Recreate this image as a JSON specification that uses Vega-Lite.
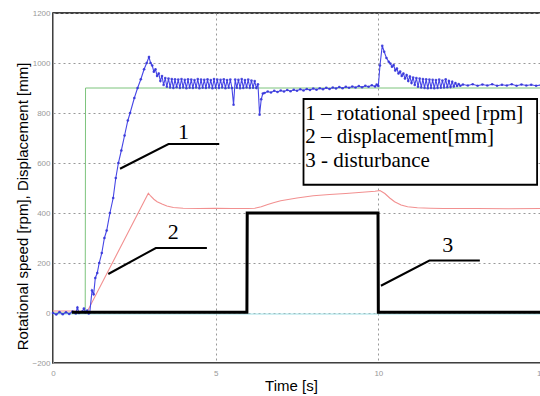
{
  "$schema": "https://vega.github.io/schema/vega-lite/v6.json",
  "width": 488,
  "height": 350,
  "autosize": {"type": "none"},
  "padding": {"left": 53, "top": 13, "right": 0, "bottom": 33},
  "background": "white",
  "config": {"view": {"stroke": "#000", "strokeWidth": 1.5}},
  "datasets": {
    "ref": [
      {"t": 0, "v": 0}, {"t": 0.99, "v": 0}, {"t": 1.0, "v": 900}, {"t": 15, "v": 900}
    ],
    "base": [
      {"t": 0, "v": -4}, {"t": 15, "v": -4}
    ],
    "disp": [
      {"t": 0, "v": 8}, {"t": 0.5, "v": 8}, {"t": 1.0, "v": 6}, {"t": 1.05, "v": 5},
      {"t": 2.93, "v": 479}, {"t": 3.0, "v": 468}, {"t": 3.1, "v": 455}, {"t": 3.2, "v": 445},
      {"t": 3.35, "v": 436}, {"t": 3.5, "v": 428}, {"t": 3.7, "v": 422}, {"t": 4.0, "v": 419},
      {"t": 4.5, "v": 418}, {"t": 5.0, "v": 419}, {"t": 5.5, "v": 418}, {"t": 6.0, "v": 418},
      {"t": 6.2, "v": 419}, {"t": 6.4, "v": 425}, {"t": 6.6, "v": 434}, {"t": 6.8, "v": 442},
      {"t": 7.0, "v": 449}, {"t": 7.5, "v": 460}, {"t": 8.0, "v": 469}, {"t": 8.5, "v": 474},
      {"t": 9.0, "v": 478}, {"t": 9.5, "v": 483}, {"t": 9.9, "v": 487}, {"t": 10.05, "v": 490},
      {"t": 10.2, "v": 478}, {"t": 10.35, "v": 460}, {"t": 10.5, "v": 445}, {"t": 10.7, "v": 432},
      {"t": 10.9, "v": 425}, {"t": 11.2, "v": 421}, {"t": 11.6, "v": 419}, {"t": 12, "v": 418},
      {"t": 13, "v": 418}, {"t": 14, "v": 417}, {"t": 15, "v": 418}
    ],
    "speed": [
      {"t": 0, "v": 0}, {"t": 0.1, "v": -6}, {"t": 0.2, "v": 4}, {"t": 0.3, "v": -5}, {"t": 0.4, "v": 3},
      {"t": 0.5, "v": -4}, {"t": 0.6, "v": 6}, {"t": 0.7, "v": -2}, {"t": 0.75, "v": 22}, {"t": 0.8, "v": 0},
      {"t": 0.9, "v": 6}, {"t": 0.95, "v": 18}, {"t": 1.0, "v": 2}, {"t": 1.05, "v": 10}, {"t": 1.1, "v": -2},
      {"t": 1.13, "v": 2}, {"t": 1.2, "v": 90}, {"t": 1.25, "v": 75}, {"t": 1.3, "v": 140}, {"t": 1.36, "v": 160},
      {"t": 1.42, "v": 200}, {"t": 1.5, "v": 240}, {"t": 1.58, "v": 300}, {"t": 1.65, "v": 330}, {"t": 1.75, "v": 400},
      {"t": 1.85, "v": 460}, {"t": 1.93, "v": 540}, {"t": 2.01, "v": 600}, {"t": 2.1, "v": 650}, {"t": 2.2, "v": 710},
      {"t": 2.3, "v": 770}, {"t": 2.37, "v": 800}, {"t": 2.5, "v": 860}, {"t": 2.6, "v": 900}, {"t": 2.7, "v": 935},
      {"t": 2.8, "v": 975}, {"t": 2.88, "v": 1000}, {"t": 2.95, "v": 1024}, {"t": 3.0, "v": 1000}, {"t": 3.05, "v": 990},
      {"t": 3.1, "v": 965}, {"t": 3.15, "v": 975}, {"t": 3.2, "v": 948}, {"t": 3.25, "v": 958}, {"t": 3.3, "v": 928},
      {"t": 3.35, "v": 948}, {"t": 3.4, "v": 912}, {"t": 3.45, "v": 940}, {"t": 3.5, "v": 905}, {"t": 3.55, "v": 938},
      {"t": 3.6, "v": 902}, {"t": 3.65, "v": 936}, {"t": 3.7, "v": 900}, {"t": 3.75, "v": 935}, {"t": 3.8, "v": 903},
      {"t": 3.85, "v": 934}, {"t": 3.9, "v": 900}, {"t": 3.95, "v": 936}, {"t": 4.0, "v": 902}, {"t": 4.05, "v": 933},
      {"t": 4.1, "v": 899}, {"t": 4.15, "v": 935}, {"t": 4.2, "v": 901}, {"t": 4.25, "v": 934}, {"t": 4.3, "v": 900},
      {"t": 4.35, "v": 932}, {"t": 4.4, "v": 902}, {"t": 4.45, "v": 936}, {"t": 4.5, "v": 899}, {"t": 4.55, "v": 934},
      {"t": 4.6, "v": 901}, {"t": 4.65, "v": 933}, {"t": 4.7, "v": 900}, {"t": 4.75, "v": 935}, {"t": 4.8, "v": 902},
      {"t": 4.85, "v": 932}, {"t": 4.9, "v": 899}, {"t": 4.95, "v": 936}, {"t": 5.0, "v": 901}, {"t": 5.05, "v": 934},
      {"t": 5.1, "v": 900}, {"t": 5.15, "v": 933}, {"t": 5.2, "v": 902}, {"t": 5.25, "v": 935}, {"t": 5.3, "v": 899},
      {"t": 5.35, "v": 932}, {"t": 5.4, "v": 901}, {"t": 5.45, "v": 934}, {"t": 5.5, "v": 900}, {"t": 5.55, "v": 833},
      {"t": 5.6, "v": 934}, {"t": 5.65, "v": 901}, {"t": 5.7, "v": 933}, {"t": 5.75, "v": 899}, {"t": 5.8, "v": 936},
      {"t": 5.85, "v": 900}, {"t": 5.9, "v": 932}, {"t": 5.95, "v": 902}, {"t": 6.0, "v": 934}, {"t": 6.05, "v": 900},
      {"t": 6.1, "v": 930}, {"t": 6.15, "v": 901}, {"t": 6.2, "v": 928}, {"t": 6.25, "v": 900}, {"t": 6.3, "v": 915},
      {"t": 6.35, "v": 793}, {"t": 6.4, "v": 855}, {"t": 6.45, "v": 878}, {"t": 6.5, "v": 880}, {"t": 6.6, "v": 886},
      {"t": 6.7, "v": 882}, {"t": 6.8, "v": 889}, {"t": 6.9, "v": 884}, {"t": 7.0, "v": 890}, {"t": 7.1, "v": 886},
      {"t": 7.2, "v": 892}, {"t": 7.3, "v": 887}, {"t": 7.4, "v": 893}, {"t": 7.5, "v": 889}, {"t": 7.6, "v": 895},
      {"t": 7.7, "v": 890}, {"t": 7.8, "v": 896}, {"t": 7.9, "v": 892}, {"t": 8.0, "v": 898}, {"t": 8.1, "v": 893},
      {"t": 8.2, "v": 899}, {"t": 8.3, "v": 895}, {"t": 8.4, "v": 901}, {"t": 8.5, "v": 896}, {"t": 8.6, "v": 902},
      {"t": 8.7, "v": 898}, {"t": 8.8, "v": 904}, {"t": 8.9, "v": 899}, {"t": 9.0, "v": 905}, {"t": 9.1, "v": 901},
      {"t": 9.2, "v": 906}, {"t": 9.3, "v": 902}, {"t": 9.4, "v": 908}, {"t": 9.5, "v": 903}, {"t": 9.6, "v": 909},
      {"t": 9.7, "v": 905}, {"t": 9.8, "v": 911}, {"t": 9.9, "v": 906}, {"t": 9.95, "v": 914}, {"t": 10.0, "v": 908},
      {"t": 10.05, "v": 990}, {"t": 10.12, "v": 1069}, {"t": 10.18, "v": 1045}, {"t": 10.25, "v": 1020}, {"t": 10.32, "v": 1005},
      {"t": 10.37, "v": 998}, {"t": 10.42, "v": 985}, {"t": 10.47, "v": 992}, {"t": 10.52, "v": 970}, {"t": 10.57, "v": 978},
      {"t": 10.62, "v": 958}, {"t": 10.67, "v": 966}, {"t": 10.72, "v": 948}, {"t": 10.77, "v": 958}, {"t": 10.82, "v": 938},
      {"t": 10.87, "v": 952}, {"t": 10.92, "v": 928}, {"t": 10.97, "v": 946}, {"t": 11.02, "v": 920}, {"t": 11.07, "v": 942},
      {"t": 11.12, "v": 912}, {"t": 11.17, "v": 940}, {"t": 11.22, "v": 905}, {"t": 11.27, "v": 938}, {"t": 11.32, "v": 902},
      {"t": 11.37, "v": 936}, {"t": 11.42, "v": 900}, {"t": 11.47, "v": 935}, {"t": 11.52, "v": 899}, {"t": 11.57, "v": 934},
      {"t": 11.62, "v": 900}, {"t": 11.67, "v": 933}, {"t": 11.72, "v": 899}, {"t": 11.77, "v": 932}, {"t": 11.82, "v": 900},
      {"t": 11.87, "v": 934}, {"t": 11.92, "v": 901}, {"t": 11.97, "v": 930}, {"t": 12.02, "v": 902}, {"t": 12.07, "v": 935},
      {"t": 12.12, "v": 903}, {"t": 12.17, "v": 928}, {"t": 12.22, "v": 904}, {"t": 12.27, "v": 925}, {"t": 12.32, "v": 906},
      {"t": 12.37, "v": 920}, {"t": 12.42, "v": 908}, {"t": 12.47, "v": 916}, {"t": 12.52, "v": 909}, {"t": 12.6, "v": 914},
      {"t": 12.75, "v": 910}, {"t": 12.9, "v": 915}, {"t": 13.05, "v": 909}, {"t": 13.2, "v": 914}, {"t": 13.35, "v": 910},
      {"t": 13.5, "v": 915}, {"t": 13.65, "v": 909}, {"t": 13.8, "v": 913}, {"t": 13.95, "v": 910}, {"t": 14.1, "v": 915},
      {"t": 14.25, "v": 909}, {"t": 14.4, "v": 914}, {"t": 14.55, "v": 910}, {"t": 14.7, "v": 913}, {"t": 14.85, "v": 909},
      {"t": 15, "v": 912}
    ],
    "dist": [
      {"t": 0.58, "v": 3}, {"t": 5.96, "v": 3}, {"t": 5.97, "v": 400}, {"t": 9.99, "v": 400}, {"t": 10.0, "v": 3}, {"t": 15, "v": 3}
    ],
    "leaders": [
      {"g": "1", "t": 2.06, "v": 577}, {"g": "1", "t": 3.55, "v": 676}, {"g": "1", "t": 5.11, "v": 676},
      {"g": "2", "t": 1.70, "v": 156}, {"g": "2", "t": 3.16, "v": 260}, {"g": "2", "t": 4.73, "v": 260},
      {"g": "3", "t": 10.08, "v": 109}, {"g": "3", "t": 11.57, "v": 210}, {"g": "3", "t": 13.12, "v": 210}
    ],
    "numbers": [
      {"label": "1", "t": 4.01, "v": 726},
      {"label": "2", "t": 3.70, "v": 326},
      {"label": "3", "t": 12.13, "v": 273}
    ],
    "box": [
      {"t": 7.70, "t2": 14.88, "v": 856, "v2": 513}
    ],
    "legendText": [
      {"label": "1 – rotational speed [rpm]", "t": 7.75, "v": 773},
      {"label": "2 – displacement[mm]", "t": 7.75, "v": 680},
      {"label": "3 - disturbance", "t": 7.75, "v": 586}
    ]
  },
  "encoding": {
    "x": {
      "field": "t", "type": "quantitative",
      "scale": {"domain": [0, 15], "nice": false, "zero": false},
      "axis": {
        "title": "Time [s]", "values": [0, 5, 10, 15], "format": "d", "grid": true, "gridDash": [2, 3], "gridColor": "#999",
        "gridWidth": 1, "tickSize": 0, "labelFontSize": 8, "labelColor": "#999", "labelPadding": 6,
        "labelFont": "Liberation Sans", "labelFlush": false, "labelOverlap": false, "domainColor": "#999",
        "titleFont": "Liberation Sans", "titleFontSize": 15, "titleFontWeight": "normal", "titleColor": "#000",
        "titleX": 238, "titleY": 27, "titleBaseline": "alphabetic", "titleAlign": "center"
      }
    },
    "y": {
      "field": "v", "type": "quantitative",
      "scale": {"domain": [-200, 1200], "nice": false, "zero": false},
      "axis": {
        "title": "Rotational speed [rpm], Displacement [mm]", "format": "d",
        "values": [-200, 0, 200, 400, 600, 800, 1000, 1200], "grid": true, "gridDash": [2, 3], "gridColor": "#999",
        "gridWidth": 1, "tickSize": 0, "labelFontSize": 8, "labelColor": "#999", "labelPadding": 3,
        "labelFont": "Liberation Sans", "labelFlush": false, "labelOverlap": false, "domainColor": "#999",
        "titleFont": "Liberation Sans", "titleFontSize": 15, "titleFontWeight": "normal", "titleColor": "#000",
        "titleX": -31, "titleY": 193, "titleAngle": -90, "titleBaseline": "middle", "titleAlign": "center"
      }
    }
  },
  "layer": [
    {"data": {"name": "ref"}, "mark": {"type": "line", "color": "#7dc47d", "strokeWidth": 1}},
    {"data": {"name": "base"}, "mark": {"type": "line", "color": "#9fe0e6", "strokeWidth": 1}},
    {"data": {"name": "disp"}, "mark": {"type": "line", "color": "#f29090", "strokeWidth": 1.1}},
    {"data": {"name": "speed"}, "mark": {"type": "line", "color": "#4646e6", "strokeWidth": 1.1}},
    {"data": {"name": "speed"}, "mark": {"type": "point", "filled": true, "color": "#3434d8", "size": 7, "opacity": 0.85}},
    {"data": {"name": "dist"}, "mark": {"type": "line", "color": "#000", "strokeWidth": 3, "strokeJoin": "miter"}},
    {"data": {"name": "leaders"}, "mark": {"type": "line", "color": "#000", "strokeWidth": 2}, "encoding": {"detail": {"field": "g"}}},
    {"data": {"name": "numbers"}, "mark": {"type": "text", "font": "Liberation Serif", "fontSize": 22, "align": "center", "baseline": "middle", "color": "#000"}, "encoding": {"text": {"field": "label"}}},
    {"data": {"name": "box"}, "mark": {"type": "rect", "fill": "white", "stroke": "#000", "strokeWidth": 1.8}, "encoding": {"x2": {"field": "t2"}, "y2": {"field": "v2"}}},
    {"data": {"name": "legendText"}, "mark": {"type": "text", "font": "Liberation Serif", "fontSize": 21, "align": "left", "baseline": "alphabetic", "color": "#000"}, "encoding": {"text": {"field": "label"}}}
  ]
}
